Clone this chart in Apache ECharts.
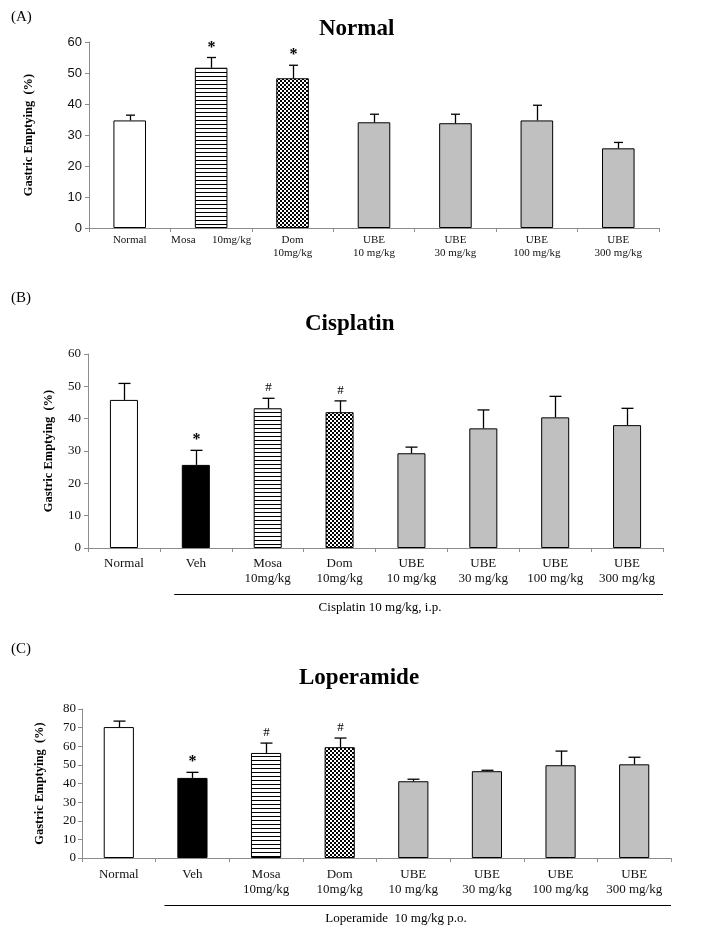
<!DOCTYPE html>
<html>
<head>
<meta charset="utf-8">
<script src="https://cdn.jsdelivr.net/npm/echarts@6/dist/echarts.min.js"></script>
<style>html,body{margin:0;padding:0;background:#fff;}#c{width:701px;height:934px;}</style>
</head>
<body>
<div id="c"></div>
<script>
// ---------- DATA ----------
const catsA = ['Normal', 'Mosa      10mg/kg', 'Dom\n10mg/kg', 'UBE\n10 mg/kg', 'UBE\n30 mg/kg', 'UBE\n100 mg/kg', 'UBE\n300 mg/kg'];
const valsA = [34.7, 51.7, 48.3, 34.1, 33.8, 34.7, 25.7];
const errA  = [36.4, 55.0, 52.5, 36.7, 36.7, 39.6, 27.6];
const sigA  = ['', '*', '*', '', '', '', ''];

const catsB = ['Normal', 'Veh', 'Mosa\n10mg/kg', 'Dom\n10mg/kg', 'UBE\n10 mg/kg', 'UBE\n30 mg/kg', 'UBE\n100 mg/kg', 'UBE\n300 mg/kg'];
const valsB = [45.8, 25.7, 43.2, 42.0, 29.3, 37.0, 40.4, 38.0];
const errB  = [50.9, 30.2, 46.3, 45.5, 31.2, 42.7, 46.9, 43.2];
const sigB  = ['', '*', '#', '#', '', '', '', ''];

const catsC = ['Normal', 'Veh', 'Mosa\n10mg/kg', 'Dom\n10mg/kg', 'UBE\n10 mg/kg', 'UBE\n30 mg/kg', 'UBE\n100 mg/kg', 'UBE\n300 mg/kg'];
const valsC = [70.3, 43.0, 56.4, 59.5, 41.2, 46.6, 49.8, 50.3];
const errC  = [73.5, 46.0, 61.7, 64.4, 42.3, 47.1, 57.4, 54.1];
const sigC  = ['', '*', '#', '#', '', '', '', ''];

const titles = ['Normal', 'Cisplatin', 'Loperamide'];
const panelTags = ['(A)', '(B)', '(C)'];
const yMaxes = [60, 60, 80];
const yName = 'Gastric Emptying  (%)';
const noteB = 'Cisplatin 10 mg/kg, i.p.';
const noteC = 'Loperamide  10 mg/kg p.o.';

// ---------- STYLE ----------
const SERIF = '"Liberation Serif", "Times New Roman", serif';
const SANS = '"Liberation Sans", Arial, sans-serif';
function mkStripe() {
  const c = document.createElement('canvas'); c.width = 4; c.height = 4;
  const g = c.getContext('2d'); g.fillStyle = '#fff'; g.fillRect(0, 0, 4, 4);
  g.fillStyle = '#000'; g.fillRect(0, 0, 4, 1); return c;
}
function mkChecker() {
  const c = document.createElement('canvas'); c.width = 4; c.height = 4;
  const g = c.getContext('2d'); g.fillStyle = '#fff'; g.fillRect(0, 0, 4, 4);
  g.fillStyle = '#000'; g.fillRect(0, 0, 2, 2); g.fillRect(2, 2, 2, 2); return c;
}
const FILL = {
  white: '#ffffff', black: '#000000', gray: '#c0c0c0',
  stripe: { image: mkStripe(), repeat: 'repeat' },
  checker: { image: mkChecker(), repeat: 'repeat' }
};
const fillsA = ['white', 'stripe', 'checker', 'gray', 'gray', 'gray', 'gray'];
const fillsBC = ['white', 'black', 'stripe', 'checker', 'gray', 'gray', 'gray', 'gray'];

const panels = [
  { cats: catsA, vals: valsA, err: errA, sig: sigA, fills: fillsA,
    grid: { left: 89, right: 42, top: 42, bottom: 706 },
    xFont: { fontFamily: SERIF, fontSize: 11, lineHeight: 13, margin: 6 },
    yFont: { fontFamily: SANS, fontSize: 13, margin: 7 }, nameGap: 54, cap: 9, barWidth: '40%' },
  { cats: catsB, vals: valsB, err: errB, sig: sigB, fills: fillsBC,
    grid: { left: 88, right: 38, top: 354, bottom: 386 },
    xFont: { fontFamily: SERIF, fontSize: 13, lineHeight: 15, margin: 8 },
    yFont: { fontFamily: SERIF, fontSize: 13, margin: 7 }, nameGap: 33, cap: 12, barWidth: '39%' },
  { cats: catsC, vals: valsC, err: errC, sig: sigC, fills: fillsBC,
    grid: { left: 82, right: 30, top: 709, bottom: 76 },
    xFont: { fontFamily: SERIF, fontSize: 13, lineHeight: 15, margin: 9 },
    yFont: { fontFamily: SERIF, fontSize: 13, margin: 6 }, nameGap: 36, cap: 12, barWidth: '41%' }
];

const chart = echarts.init(document.getElementById('c'), null, { renderer: 'canvas', width: 701, height: 934 });

const grids = [], xAxes = [], yAxes = [], series = [];
panels.forEach((p, k) => {
  grids.push(Object.assign({ containLabel: false }, p.grid));
  xAxes.push({
    type: 'category', gridIndex: k, data: p.cats,
    axisLine: { lineStyle: { color: '#8c8c8c', width: 1 } },
    axisTick: { show: true, length: 4, lineStyle: { color: '#8c8c8c' } },
    axisLabel: { color: '#111', fontFamily: p.xFont.fontFamily, fontSize: p.xFont.fontSize,
                 lineHeight: p.xFont.lineHeight, margin: p.xFont.margin, interval: 0 },
    splitLine: { show: false }
  });
  yAxes.push({
    type: 'value', gridIndex: k, min: 0, max: yMaxes[k], interval: 10,
    name: yName, nameLocation: 'middle', nameGap: p.nameGap, nameRotate: 90,
    nameTextStyle: { fontFamily: SERIF, fontWeight: 'bold', fontSize: 12.5, color: '#000' },
    axisLine: { show: true, lineStyle: { color: '#8c8c8c', width: 1 } },
    axisTick: { show: true, length: 4, lineStyle: { color: '#8c8c8c' } },
    axisLabel: { color: '#111', fontFamily: p.yFont.fontFamily, fontSize: p.yFont.fontSize, margin: p.yFont.margin },
    splitLine: { show: false }
  });
  series.push({
    type: 'bar', xAxisIndex: k, yAxisIndex: k, barWidth: p.barWidth, animation: false,
    data: p.vals.map((v, i) => ({ value: v, itemStyle: { color: FILL[p.fills[i]], borderColor: '#000', borderWidth: 1 } })),
    silent: true
  });
  series.push({
    type: 'custom', xAxisIndex: k, yAxisIndex: k, animation: false, silent: true, z: 5,
    data: p.vals.map((v, i) => [i, v, p.err[i]]),
    renderItem: function (params, api) {
      const i = api.value(0), v = api.value(1), e = api.value(2);
      const a = api.coord([i, v]), b = api.coord([i, e]);
      const x = Math.round(a[0]) + 0.5;
      const half = p.cap / 2;
      const style = { stroke: '#000', lineWidth: 1.3 };
      const children = [
        { type: 'line', shape: { x1: x, y1: a[1], x2: x, y2: b[1] }, style: style },
        { type: 'line', shape: { x1: x - half, y1: b[1], x2: x + half, y2: b[1] }, style: style }
      ];
      const s = p.sig[params.dataIndex];
      if (s) {
        children.push({ type: 'text', style: { text: s, x: x, y: b[1] - (s === '*' ? 2 : 4),
          textAlign: 'center', textVerticalAlign: 'bottom', fill: '#000',
          font: (s === '*' ? 'bold 16px ' : '13px ') + SERIF } });
      }
      return { type: 'group', children: children };
    }
  });
});

const titleLefts = [319, 305, 299];
const titleTops = [18, 313, 667];
chart.setOption({
  animation: false,
  backgroundColor: '#fff',
  title: titles.map((t, k) => ({ text: t, left: titleLefts[k], top: titleTops[k], padding: 0,
    textStyle: { fontFamily: SERIF, fontWeight: 'bold', fontSize: 23, color: '#000' } })),
  grid: grids, xAxis: xAxes, yAxis: yAxes, series: series
});

// panel tags, bracket lines and notes
function bracket(k, startFrac, offset) {
  const c1 = chart.convertToPixel({ xAxisIndex: k }, 1);
  const c2 = chart.convertToPixel({ xAxisIndex: k }, 2);
  const band = c2 - c1;
  const last = chart.convertToPixel({ xAxisIndex: k }, panels[k].cats.length - 1);
  const y0 = chart.convertToPixel({ yAxisIndex: k }, 0);
  return { x1: c1 - startFrac * band, x2: last + 0.5 * band, y: Math.round(y0 + offset) + 0.5 };
}
const bB = bracket(1, 0.3, 45.7);
const bC = bracket(2, 0.38, 46.6);
chart.setOption({
  graphic: [
    { type: 'text', left: 11, top: 10, style: { text: panelTags[0], font: '15px ' + SERIF, fill: '#000' } },
    { type: 'text', left: 11, top: 291, style: { text: panelTags[1], font: '15px ' + SERIF, fill: '#000' } },
    { type: 'text', left: 11, top: 642, style: { text: panelTags[2], font: '15px ' + SERIF, fill: '#000' } },
    { type: 'line', shape: { x1: bB.x1, y1: bB.y, x2: bB.x2, y2: bB.y }, style: { stroke: '#000', lineWidth: 1.2 } },
    { type: 'line', shape: { x1: bC.x1, y1: bC.y, x2: bC.x2, y2: bC.y }, style: { stroke: '#000', lineWidth: 1.2 } },
    { type: 'text', x: 380, y: 608, style: { text: noteB, font: '13px ' + SERIF, fill: '#000', textAlign: 'center', textVerticalAlign: 'middle' } },
    { type: 'text', x: 396, y: 919, style: { text: noteC, font: '13px ' + SERIF, fill: '#000', textAlign: 'center', textVerticalAlign: 'middle' } }
  ]
});
</script>
</body>
</html>
